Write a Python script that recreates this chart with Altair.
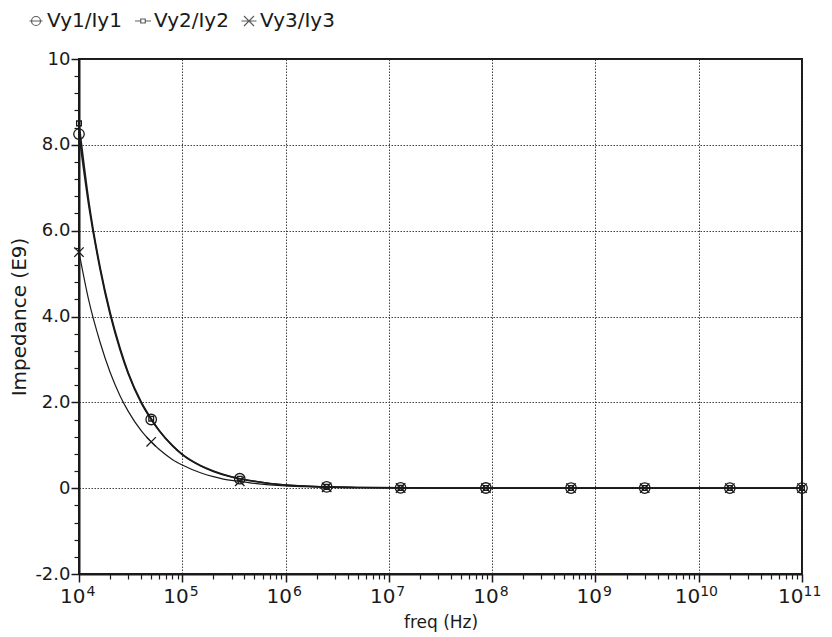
import altair as alt
import pandas as pd

# ---- data ----
series_names = ["Vy1/Iy1", "Vy2/Iy2", "Vy3/Iy3"]

freq = [1e4, 1.25e4, 1.6e4, 2e4, 2.5e4, 3e4, 4e4, 5e4, 6e4, 8e4, 1e5, 1.5e5, 2e5,
        3e5, 3.6e5, 5e5, 7e5, 1e6, 1.5e6, 2.5e6, 5e6, 1.3e7, 8.7e7, 5.8e8, 3e9, 2e10, 1e11]
vy1 = [8.25, 6.55, 5.10, 4.05, 3.22, 2.66, 1.99, 1.60, 1.33, 0.99, 0.78, 0.52, 0.39,
       0.26, 0.22, 0.16, 0.11, 0.075, 0.05, 0.03, 0.017, 0.008, 0.004, 0.003, 0.003, 0.002, 0.002]
vy2 = [8.50, 6.65, 5.15, 4.10, 3.26, 2.69, 2.01, 1.62, 1.34, 1.00, 0.79, 0.53, 0.40,
       0.265, 0.22, 0.16, 0.11, 0.075, 0.05, 0.03, 0.016, 0.007, 0.003, 0.002, 0.002, 0.002, 0.002]
vy3 = [5.50, 4.35, 3.40, 2.70, 2.15, 1.79, 1.34, 1.08, 0.90, 0.67, 0.54, 0.36, 0.27,
       0.18, 0.16, 0.11, 0.075, 0.05, 0.034, 0.02, 0.01, 0.004, 0.002, 0.001, 0.001, 0.001, 0.001]

marker_freq = [1e4, 5e4, 3.6e5, 2.5e6, 1.3e7, 8.7e7, 5.8e8, 3e9, 2e10, 1e11]
mk1 = [8.25, 1.60, 0.22, 0.03, 0.008, 0.004, 0.003, 0.003, 0.002, 0.002]
mk2 = [8.50, 1.62, 0.22, 0.03, 0.007, 0.003, 0.002, 0.002, 0.002, 0.002]
mk3 = [5.50, 1.08, 0.16, 0.02, 0.004, 0.002, 0.001, 0.001, 0.001, 0.001]

x_major = [1e4, 1e5, 1e6, 1e7, 1e8, 1e9, 1e10, 1e11]
x_minor = [m * 10 ** e for e in range(4, 11) for m in range(2, 10)]
y_major = [-2, 0, 2, 4, 6, 8, 10]
y_minor = [round(-2 + 0.4 * i, 1) for i in range(31) if i % 5 != 0]

# ---- tables ----
lines = pd.DataFrame({
    "freq": freq * 3,
    "value": vy1 + vy2 + vy3,
    "series": [series_names[0]] * len(freq) + [series_names[1]] * len(freq) + [series_names[2]] * len(freq),
})
markers = pd.DataFrame({
    "freq": marker_freq * 3,
    "value": mk1 + mk2 + mk3,
    "series": [series_names[0]] * len(marker_freq) + [series_names[1]] * len(marker_freq)
              + [series_names[2]] * len(marker_freq),
})

FONT = "DejaVu Sans"
INK = "#1a1a1a"

x_scale = alt.Scale(type="log", domain=[1e4, 1e11], nice=False)
y_scale = alt.Scale(domain=[-2, 10], nice=False, zero=False)

grid_kw = dict(grid=True, gridColor="#2a2a2a", gridDash=[1.5, 1.5], gridWidth=1, gridOpacity=0.9)

x_main_axis = alt.Axis(
    values=x_major, labelExpr="'10'", labelAlign="right",
    labelOffset={"condition": {"test": "datum.value >= 1e10", "value": 1}, "value": 6},
    labelFontSize=20, labelFont=FONT, labelColor=INK, labelPadding=4,
    tickSize=8, tickColor=INK, tickWidth=1.5,
    domainColor=INK, domainWidth=2,
    title="freq (Hz)", titleFont=FONT, titleFontSize=17, titleFontWeight="normal",
    titleColor=INK, titlePadding=8, orient="bottom", **grid_kw)

x_exp_axis = alt.Axis(
    values=x_major, labelExpr="format(round(log(datum.value) / LN10), 'd')",
    labelAlign="left",
    labelOffset={"condition": {"test": "datum.value >= 1e10", "value": 1}, "value": 7},
    labelFontSize=14, labelFont=FONT, labelColor=INK, labelPadding=10,
    ticks=False, tickSize=0, domain=False, grid=False, title=None, orient="bottom")

x_minor_axis = alt.Axis(
    values=x_minor, labels=False, ticks=True, tickSize=5, tickColor=INK, tickWidth=1.2,
    domain=False, grid=False, title=None, orient="bottom")

y_main_axis = alt.Axis(
    values=y_major,
    labelExpr="datum.value == 0 ? '0' : (datum.value == 10 ? '10' : (datum.value < 0 ? '-' + format(-datum.value, '.1f') : format(datum.value, '.1f')))",
    labelFontSize=18, labelFont=FONT, labelColor=INK, labelPadding=1,
    tickSize=8, tickColor=INK, tickWidth=1.5,
    domainColor=INK, domainWidth=2,
    title="Impedance (E9)", titleFont=FONT, titleFontSize=20, titleFontWeight="normal",
    titleColor=INK, titlePadding=5, orient="left", **grid_kw)

y_minor_axis = alt.Axis(
    values=y_minor, labels=False, ticks=True, tickSize=5, tickColor=INK, tickWidth=1.2,
    domain=False, grid=False, title=None, orient="left")

marker_paths = [
    "circle",
    "M-0.45,-0.45L0.45,-0.45L0.45,0.45L-0.45,0.45Z",
    "M-0.9,-0.9L0.9,0.9M-0.9,0.9L0.9,-0.9",
]
legend_paths = [
    "M-1.3,0L1.3,0M0.9,0A0.9,0.9 0 1,1 -0.9,0A0.9,0.9 0 1,1 0.9,0",
    "M-1.6,0L-0.45,0M0.45,0L1.6,0M-0.45,-0.4L0.45,-0.4L0.45,0.4L-0.45,0.4Z",
    "M-1.5,0L1.5,0M-1,-1L1,1M-1,1L1,-1",
]

line_base = alt.Chart(lines)

line_12 = line_base.transform_filter(
    alt.FieldOneOfPredicate(field="series", oneOf=series_names[:2])
).mark_line(interpolate="monotone", strokeWidth=1.6, color=INK).encode(
    x=alt.X("freq:Q", scale=x_scale, axis=x_main_axis),
    y=alt.Y("value:Q", scale=y_scale, axis=y_main_axis),
    detail="series:N",
)

line_3 = line_base.transform_filter(
    alt.FieldEqualPredicate(field="series", equal=series_names[2])
).mark_line(interpolate="monotone", strokeWidth=1.2, color=INK).encode(
    x=alt.X("freq:Q", scale=x_scale, axis=None),
    y=alt.Y("value:Q", scale=y_scale, axis=None),
    detail="series:N",
)

points = alt.Chart(markers).mark_point(filled=False, size=110, strokeWidth=1.3, color=INK, opacity=1).encode(
    x=alt.X("freq:Q", scale=x_scale, axis=x_exp_axis),
    y=alt.Y("value:Q", scale=y_scale, axis=y_minor_axis),
    shape=alt.Shape("series:N", scale=alt.Scale(domain=series_names, range=marker_paths), legend=None),
)

legend_layer = alt.Chart(markers).transform_filter("false").mark_point(
    filled=False, size=100, strokeWidth=1.2, color=INK
).encode(
    x=alt.X("freq:Q", scale=x_scale, axis=x_minor_axis),
    y=alt.Y("value:Q", scale=y_scale, axis=None),
    shape=alt.Shape(
        "series:N",
        scale=alt.Scale(domain=series_names, range=legend_paths),
        legend=alt.Legend(
            title=None, orient="none", direction="horizontal", legendX=-53, legendY=-48,
            labelFont=FONT, labelFontSize=20, labelColor=INK, labelOffset=1,
            symbolSize=100, symbolStrokeColor=INK, symbolFillColor="transparent",
            symbolStrokeWidth=1.2, columnPadding=10,
        ),
    ),
)

chart = alt.layer(line_12, line_3, points, legend_layer).resolve_axis(
    x="independent", y="independent"
).resolve_scale(shape="independent").properties(
    width=723, height=515,
    autosize=alt.AutoSizeParams(type="none"),
    padding={"left": 79, "top": 59, "right": 30, "bottom": 63},
    background="white",
).configure_view(stroke=INK, strokeWidth=2)

chart.save("out.html", embed_options={"renderer": "svg", "actions": False})
